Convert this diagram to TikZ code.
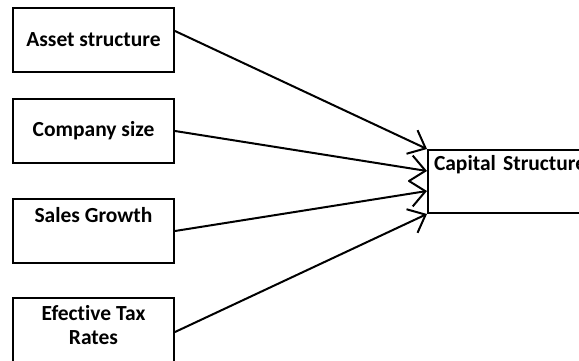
\documentclass[tikz,border=0pt]{standalone}
\usepackage{fontspec}
\setmainfont{Carlito}[Ligatures=CommonOff]
\usetikzlibrary{arrows.meta}
\begin{document}
\begin{tikzpicture}[x=1pt,y=-1pt,
    factor/.style={draw, line width=2pt, minimum width=161pt, minimum height=64pt,
      inner sep=0pt, align=center, font=\fontsize{21.5}{24}\selectfont\bfseries},
    link/.style={line width=2pt, -{Straight Barb[length=15pt,width=26pt]}}]
  \useasboundingbox (0,0) rectangle (579,361);
  \clip (0,0) rectangle (579,361);

  % factors
  \node[factor] (asset) at (93.5,40) {Asset structure};
  \node[factor] (size) at (93.5,131) {Company size};
  \node[factor, text height=23pt, text depth=41pt] (growth) at (93.5,231) {Sales Growth};
  \node[factor, minimum height=70pt, text height=46pt, text depth=24pt] (tax) at (93.5,333) {Efective Tax\\Rates};

  % capital structure (runs off the right edge)
  \node[factor, anchor=north west, minimum width=200pt, minimum height=63pt, inner xsep=6pt,
    align=left, text width=188pt, text height=21pt, text depth=42pt] (capital) at (427,149) {Capital Structure};

  % arrows
  \draw[link] ([yshift=9pt]asset.east) -- (capital.north west); % asset structure
  \draw[link] (size.east) -- ([yshift=-22pt]capital.north west); % company size
  \draw[link] (growth.east) -- ([yshift=-42pt]capital.north west); % sales growth
  \draw[link] ([yshift=1pt]tax.east) -- (capital.south west); % tax rates
\end{tikzpicture}
\end{document}
